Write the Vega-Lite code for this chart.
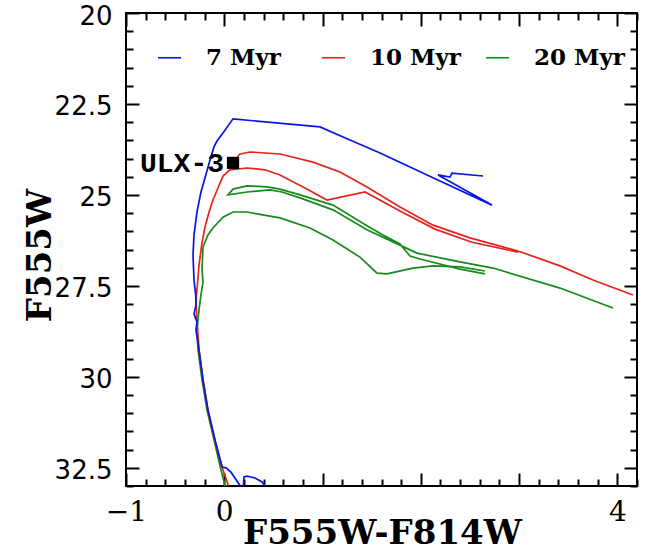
{
  "$schema": "https://vega.github.io/schema/vega-lite/v6.json",
  "autosize": {"type": "none"},
  "padding": {"left": 126, "top": 13, "right": 16, "bottom": 64},
  "width": 511,
  "height": 473,
  "background": "white",
  "config": {"view": {"stroke": "black", "strokeWidth": 2}},
  "resolve": {"axis": {"x": "independent", "y": "independent"}},
  "layer": [
    {
      "data": {"values": [
        {"age":"20 Myr","seg":"g1","i":0,"x":0.018,"y":33.11},
        {"age":"20 Myr","seg":"g1","i":1,"x":-0.033,"y":32.56},
        {"age":"20 Myr","seg":"g1","i":2,"x":-0.104,"y":31.74},
        {"age":"20 Myr","seg":"g1","i":3,"x":-0.176,"y":30.91},
        {"age":"20 Myr","seg":"g1","i":4,"x":-0.226,"y":30.09},
        {"age":"20 Myr","seg":"g1","i":5,"x":-0.267,"y":29.26},
        {"age":"20 Myr","seg":"g1","i":6,"x":-0.278,"y":28.71},
        {"age":"20 Myr","seg":"g1","i":7,"x":-0.257,"y":28.16},
        {"age":"20 Myr","seg":"g1","i":8,"x":-0.237,"y":27.75},
        {"age":"20 Myr","seg":"g1","i":9,"x":-0.216,"y":27.39},
        {"age":"20 Myr","seg":"g1","i":10,"x":-0.227,"y":27.06},
        {"age":"20 Myr","seg":"g1","i":11,"x":-0.216,"y":26.43},
        {"age":"20 Myr","seg":"g1","i":12,"x":-0.166,"y":26.10},
        {"age":"20 Myr","seg":"g1","i":13,"x":-0.115,"y":25.91},
        {"age":"20 Myr","seg":"g1","i":14,"x":-0.013,"y":25.61},
        {"age":"20 Myr","seg":"g1","i":15,"x":0.089,"y":25.47},
        {"age":"20 Myr","seg":"g1","i":16,"x":0.231,"y":25.47},
        {"age":"20 Myr","seg":"g1","i":17,"x":0.567,"y":25.63},
        {"age":"20 Myr","seg":"g1","i":18,"x":0.872,"y":25.91},
        {"age":"20 Myr","seg":"g1","i":19,"x":1.106,"y":26.24},
        {"age":"20 Myr","seg":"g1","i":20,"x":1.381,"y":26.71},
        {"age":"20 Myr","seg":"g1","i":21,"x":1.554,"y":27.15},
        {"age":"20 Myr","seg":"g1","i":22,"x":1.656,"y":27.17},
        {"age":"20 Myr","seg":"g1","i":23,"x":1.921,"y":27.01},
        {"age":"20 Myr","seg":"g1","i":24,"x":2.124,"y":26.95},
        {"age":"20 Myr","seg":"g1","i":25,"x":2.399,"y":26.98},
        {"age":"20 Myr","seg":"g1","i":26,"x":2.653,"y":27.09},
        {"age":"20 Myr","seg":"g2","i":0,"x":2.653,"y":27.17},
        {"age":"20 Myr","seg":"g2","i":1,"x":2.399,"y":27.04},
        {"age":"20 Myr","seg":"g2","i":2,"x":1.992,"y":26.76},
        {"age":"20 Myr","seg":"g2","i":3,"x":1.890,"y":26.68},
        {"age":"20 Myr","seg":"g2","i":4,"x":1.788,"y":26.35},
        {"age":"20 Myr","seg":"g2","i":5,"x":1.615,"y":26.10},
        {"age":"20 Myr","seg":"g2","i":6,"x":1.452,"y":25.85},
        {"age":"20 Myr","seg":"g2","i":7,"x":1.106,"y":25.28},
        {"age":"20 Myr","seg":"g2","i":8,"x":0.771,"y":25.00},
        {"age":"20 Myr","seg":"g2","i":9,"x":0.567,"y":24.84},
        {"age":"20 Myr","seg":"g2","i":10,"x":0.435,"y":24.78},
        {"age":"20 Myr","seg":"g2","i":11,"x":0.231,"y":24.75},
        {"age":"20 Myr","seg":"g2","i":12,"x":0.089,"y":24.84},
        {"age":"20 Myr","seg":"g2","i":13,"x":0.038,"y":25.00},
        {"age":"20 Myr","seg":"g2","i":14,"x":0.231,"y":24.92},
        {"age":"20 Myr","seg":"g2","i":15,"x":0.465,"y":24.86},
        {"age":"20 Myr","seg":"g2","i":16,"x":0.587,"y":24.92},
        {"age":"20 Myr","seg":"g2","i":17,"x":0.771,"y":25.08},
        {"age":"20 Myr","seg":"g2","i":18,"x":1.106,"y":25.41},
        {"age":"20 Myr","seg":"g2","i":19,"x":1.452,"y":25.96},
        {"age":"20 Myr","seg":"g2","i":20,"x":1.717,"y":26.29},
        {"age":"20 Myr","seg":"g2","i":21,"x":1.961,"y":26.60},
        {"age":"20 Myr","seg":"g2","i":22,"x":2.399,"y":26.84},
        {"age":"20 Myr","seg":"g2","i":23,"x":2.735,"y":27.01},
        {"age":"20 Myr","seg":"g2","i":24,"x":3.416,"y":27.56},
        {"age":"20 Myr","seg":"g2","i":25,"x":3.956,"y":28.11},
        {"age":"10 Myr","seg":"r1","i":0,"x":0.058,"y":33.11},
        {"age":"10 Myr","seg":"r1","i":1,"x":-0.013,"y":32.56},
        {"age":"10 Myr","seg":"r1","i":2,"x":-0.094,"y":31.74},
        {"age":"10 Myr","seg":"r1","i":3,"x":-0.166,"y":30.91},
        {"age":"10 Myr","seg":"r1","i":4,"x":-0.216,"y":30.09},
        {"age":"10 Myr","seg":"r1","i":5,"x":-0.257,"y":29.26},
        {"age":"10 Myr","seg":"r1","i":6,"x":-0.278,"y":28.44},
        {"age":"10 Myr","seg":"r1","i":7,"x":-0.288,"y":27.89},
        {"age":"10 Myr","seg":"r1","i":8,"x":-0.278,"y":27.61},
        {"age":"10 Myr","seg":"r1","i":9,"x":-0.257,"y":26.93},
        {"age":"10 Myr","seg":"r1","i":10,"x":-0.227,"y":26.32},
        {"age":"10 Myr","seg":"r1","i":11,"x":-0.196,"y":25.88},
        {"age":"10 Myr","seg":"r1","i":12,"x":-0.155,"y":25.47},
        {"age":"10 Myr","seg":"r1","i":13,"x":-0.115,"y":25.14},
        {"age":"10 Myr","seg":"r1","i":14,"x":-0.064,"y":24.81},
        {"age":"10 Myr","seg":"r1","i":15,"x":-0.013,"y":24.48},
        {"age":"10 Myr","seg":"r1","i":16,"x":0.058,"y":24.31},
        {"age":"10 Myr","seg":"r1","i":17,"x":0.109,"y":24.04},
        {"age":"10 Myr","seg":"r1","i":18,"x":0.160,"y":23.875},
        {"age":"10 Myr","seg":"r1","i":19,"x":0.262,"y":23.82},
        {"age":"10 Myr","seg":"r1","i":20,"x":0.567,"y":23.875},
        {"age":"10 Myr","seg":"r1","i":21,"x":0.903,"y":24.10},
        {"age":"10 Myr","seg":"r1","i":22,"x":1.177,"y":24.37},
        {"age":"10 Myr","seg":"r1","i":23,"x":1.452,"y":24.78},
        {"age":"10 Myr","seg":"r1","i":24,"x":1.788,"y":25.33},
        {"age":"10 Myr","seg":"r1","i":25,"x":2.124,"y":25.83},
        {"age":"10 Myr","seg":"r1","i":26,"x":2.500,"y":26.18},
        {"age":"10 Myr","seg":"r1","i":27,"x":2.989,"y":26.54},
        {"age":"10 Myr","seg":"r1","i":28,"x":3.416,"y":26.95},
        {"age":"10 Myr","seg":"r1","i":29,"x":3.752,"y":27.34},
        {"age":"10 Myr","seg":"r1","i":30,"x":4.159,"y":27.75},
        {"age":"10 Myr","seg":"r2","i":0,"x":0.058,"y":24.31},
        {"age":"10 Myr","seg":"r2","i":1,"x":0.231,"y":24.26},
        {"age":"10 Myr","seg":"r2","i":2,"x":0.414,"y":24.31},
        {"age":"10 Myr","seg":"r2","i":3,"x":0.567,"y":24.45},
        {"age":"10 Myr","seg":"r2","i":4,"x":0.821,"y":24.81},
        {"age":"10 Myr","seg":"r2","i":5,"x":1.045,"y":25.14},
        {"age":"10 Myr","seg":"r2","i":6,"x":1.432,"y":24.92},
        {"age":"10 Myr","seg":"r2","i":7,"x":1.788,"y":25.44},
        {"age":"10 Myr","seg":"r2","i":8,"x":2.144,"y":25.94},
        {"age":"10 Myr","seg":"r2","i":9,"x":2.520,"y":26.30},
        {"age":"10 Myr","seg":"r2","i":10,"x":2.989,"y":26.57},
        {"age":"7 Myr","seg":"b","i":0,"x":0.435,"y":33.08},
        {"age":"7 Myr","seg":"b","i":1,"x":0.384,"y":32.89},
        {"age":"7 Myr","seg":"b","i":2,"x":0.313,"y":32.78},
        {"age":"7 Myr","seg":"b","i":3,"x":0.231,"y":32.73},
        {"age":"7 Myr","seg":"b","i":4,"x":0.201,"y":32.75},
        {"age":"7 Myr","seg":"b","i":5,"x":0.191,"y":33.11},
        {"age":"7 Myr","seg":"b","i":6,"x":0.068,"y":32.62},
        {"age":"7 Myr","seg":"b","i":7,"x":0.018,"y":32.50},
        {"age":"7 Myr","seg":"b","i":8,"x":-0.023,"y":32.48},
        {"age":"7 Myr","seg":"b","i":9,"x":-0.094,"y":31.74},
        {"age":"7 Myr","seg":"b","i":10,"x":-0.166,"y":30.91},
        {"age":"7 Myr","seg":"b","i":11,"x":-0.216,"y":30.09},
        {"age":"7 Myr","seg":"b","i":12,"x":-0.257,"y":29.26},
        {"age":"7 Myr","seg":"b","i":13,"x":-0.288,"y":28.71},
        {"age":"7 Myr","seg":"b","i":14,"x":-0.278,"y":28.49},
        {"age":"7 Myr","seg":"b","i":15,"x":-0.308,"y":28.27},
        {"age":"7 Myr","seg":"b","i":16,"x":-0.288,"y":28.03},
        {"age":"7 Myr","seg":"b","i":17,"x":-0.288,"y":27.83},
        {"age":"7 Myr","seg":"b","i":18,"x":-0.308,"y":27.34},
        {"age":"7 Myr","seg":"b","i":19,"x":-0.318,"y":26.65},
        {"age":"7 Myr","seg":"b","i":20,"x":-0.308,"y":26.10},
        {"age":"7 Myr","seg":"b","i":21,"x":-0.278,"y":25.47},
        {"age":"7 Myr","seg":"b","i":22,"x":-0.237,"y":24.92},
        {"age":"7 Myr","seg":"b","i":23,"x":-0.196,"y":24.53},
        {"age":"7 Myr","seg":"b","i":24,"x":-0.145,"y":24.04},
        {"age":"7 Myr","seg":"b","i":25,"x":-0.105,"y":23.68},
        {"age":"7 Myr","seg":"b","i":26,"x":-0.074,"y":23.52},
        {"age":"7 Myr","seg":"b","i":27,"x":0.007,"y":23.22},
        {"age":"7 Myr","seg":"b","i":28,"x":0.089,"y":22.91},
        {"age":"7 Myr","seg":"b","i":29,"x":0.974,"y":23.13},
        {"age":"7 Myr","seg":"b","i":30,"x":1.279,"y":23.49},
        {"age":"7 Myr","seg":"b","i":31,"x":1.585,"y":23.85},
        {"age":"7 Myr","seg":"b","i":32,"x":2.195,"y":24.62},
        {"age":"7 Myr","seg":"b","i":33,"x":2.724,"y":25.28},
        {"age":"7 Myr","seg":"b","i":34,"x":2.175,"y":24.45},
        {"age":"7 Myr","seg":"b","i":35,"x":2.297,"y":24.51},
        {"age":"7 Myr","seg":"b","i":36,"x":2.317,"y":24.40},
        {"age":"7 Myr","seg":"b","i":37,"x":2.633,"y":24.48}
      ]},
      "mark": {"type": "line", "clip": true, "strokeWidth": 1.7},
      "encoding": {
        "x": {"field": "x", "type": "quantitative",
          "scale": {"domain": [-1, 4.2], "nice": false, "zero": false},
          "axis": {"orient": "bottom", "grid": false,
            "values": [-1,-0.8,-0.6,-0.4,-0.2,0,0.2,0.4,0.6,0.8,1,1.2,1.4,1.6,1.8,2,2.2,2.4,2.6,2.8,3,3.2,3.4,3.6,3.8,4,4.2],
            "labelExpr": "(datum.value == -1 || datum.value == 0 || datum.value == 4) ? datum.label : ''",
            "format": "~g",
            "tickSize": {"condition": {"test": "abs(datum.value - round(datum.value)) < 0.01", "value": -13}, "value": -7},
            "tickWidth": 2, "tickColor": "black", "domain": false,
            "labelFont": "DejaVu Serif", "labelFontSize": 28, "labelColor": "black", "labelPadding": 25,
            "labelOverlap": false, "labelFlush": false,
            "title": "F555W-F814W", "titleFont": "DejaVu Serif", "titleFontSize": 34, "titleFontWeight": "bold", "titleColor": "black",
            "titleBaseline": "alphabetic", "titleY": 57, "titleX": 256}},
        "y": {"field": "y", "type": "quantitative",
          "scale": {"domain": [20, 33], "reverse": true, "nice": false, "zero": false},
          "axis": {"orient": "left", "grid": false,
            "values": [20,20.5,21,21.5,22,22.5,23,23.5,24,24.5,25,25.5,26,26.5,27,27.5,28,28.5,29,29.5,30,30.5,31,31.5,32,32.5,33],
            "labelExpr": "abs(datum.value/2.5 - round(datum.value/2.5)) < 0.01 && datum.value < 33 ? datum.label : ''",
            "format": "~g",
            "tickSize": {"condition": {"test": "abs(datum.value/2.5 - round(datum.value/2.5)) < 0.01", "value": -13}, "value": -7},
            "tickWidth": 2, "tickColor": "black", "domain": false,
            "labelFont": "DejaVu Sans", "labelFontSize": 26, "labelColor": "black", "labelPadding": 27, "labelOffset": 3,
            "labelOverlap": false, "labelFlush": false,
            "title": "F555W", "titleFont": "DejaVu Serif", "titleFontSize": 34, "titleFontWeight": "bold", "titleColor": "black",
            "titleBaseline": "alphabetic", "titleAngle": -90, "titleX": -76, "titleY": 242}},
        "color": {"field": "age", "type": "nominal",
          "scale": {"domain": ["7 Myr", "10 Myr", "20 Myr"], "range": ["#0a14e6", "#e8231c", "#178a1c"]},
          "legend": {"orient": "none", "legendX": 31, "legendY": 32, "direction": "horizontal", "columns": 3,
            "gridAlign": "all", "columnPadding": 21, "symbolType": "stroke", "symbolSize": 529, "symbolStrokeWidth": 1.6,
            "labelOffset": 24, "labelFont": "DejaVu Serif", "labelFontWeight": "bold", "labelFontSize": 23, "labelColor": "black",
            "labelLimit": 0, "title": null, "padding": 0}},
        "detail": {"field": "seg"},
        "order": {"field": "i", "type": "quantitative"}
      }
    },
    {
      "data": {"values": [{"name": "ULX-3", "x": 0.089, "y": 24.12}]},
      "mark": {"type": "point", "shape": "square", "filled": true, "color": "black", "size": 150, "opacity": 1},
      "encoding": {
        "x": {"field": "x", "type": "quantitative",
          "axis": {"orient": "top", "grid": false, "labels": false, "title": null, "domain": false,
            "values": [-1,-0.8,-0.6,-0.4,-0.2,0,0.2,0.4,0.6,0.8,1,1.2,1.4,1.6,1.8,2,2.2,2.4,2.6,2.8,3,3.2,3.4,3.6,3.8,4,4.2],
            "tickSize": {"condition": {"test": "abs(datum.value - round(datum.value)) < 0.01", "value": -13}, "value": -7},
            "tickWidth": 2, "tickColor": "black"}},
        "y": {"field": "y", "type": "quantitative",
          "axis": {"orient": "right", "grid": false, "labels": false, "title": null, "domain": false,
            "values": [20,20.5,21,21.5,22,22.5,23,23.5,24,24.5,25,25.5,26,26.5,27,27.5,28,28.5,29,29.5,30,30.5,31,31.5,32,32.5,33],
            "tickSize": {"condition": {"test": "abs(datum.value/2.5 - round(datum.value/2.5)) < 0.01", "value": -13}, "value": -7},
            "tickWidth": 2, "tickColor": "black"}}
      }
    },
    {
      "data": {"values": [{"name": "ULX-3", "x": 0.089, "y": 24.12}]},
      "mark": {"type": "text", "align": "right", "baseline": "middle", "dx": -9, "dy": 1,
        "font": "Liberation Mono", "fontWeight": "bold", "fontSize": 28, "color": "black"},
      "encoding": {
        "x": {"field": "x", "type": "quantitative", "axis": null},
        "y": {"field": "y", "type": "quantitative", "axis": null},
        "text": {"field": "name"}
      }
    }
  ]
}
